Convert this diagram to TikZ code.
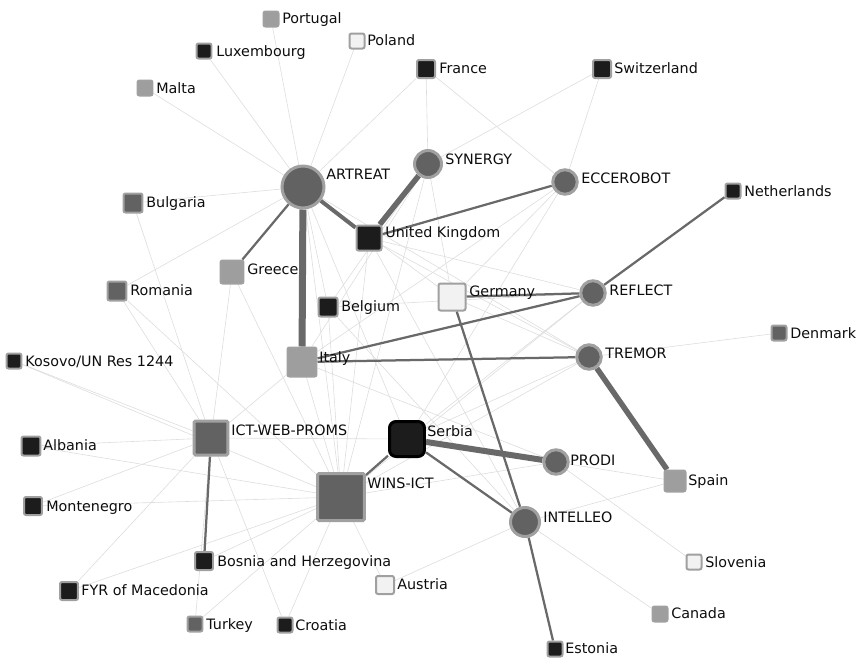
\documentclass[tikz,border=0pt]{standalone}
\usepackage{fontspec}
\setmainfont{DejaVu Sans}
\usepackage{tikz}
\pgfdeclarelayer{bg}
\pgfsetlayers{bg,main}
\definecolor{ringgray}{HTML}{A0A0A0}
\definecolor{darkfill}{HTML}{1C1C1C}
\definecolor{midfill}{HTML}{626262}
\definecolor{lightfill}{HTML}{9E9E9E}
\definecolor{whitefill}{HTML}{F2F2F2}
\definecolor{edgefaint}{HTML}{DDDDDD}
\definecolor{edgedark}{HTML}{696969}
\tikzset{
	cty/.style={rectangle, draw=ringgray, line width=0.4mm, rounded corners=0.4mm, minimum size=3mm, inner sep=0pt},
	proj/.style={circle, draw=ringgray, fill=midfill, line width=0.6mm, minimum size=4.9mm, inner sep=0pt},
	lbl/.style={anchor=west, inner sep=0pt, text height=6pt, text depth=0pt, text=black!95, font=\fontsize{8.15}{10}\selectfont},
	faint/.style={draw=edgefaint, line width=0.12mm},
	link/.style={draw=edgedark, line width=0.45mm},
	heavy/.style={draw=edgedark, line width=1.1mm}
}

\begin{document}
\begin{tikzpicture}[x=0.02cm, y=-0.02cm]
	\useasboundingbox (0,0) rectangle (856,660);
	% projects
	\node[proj, minimum size=8.4mm] (art) at (303,187) {};
	\node[proj, minimum size=5.4mm] (syn) at (428,164) {};
	\node[proj] (ecc) at (565,182) {};
	\node[proj] (ref) at (593,293) {};
	\node[proj] (tre) at (589,357) {};
	\node[proj] (pro) at (556,462) {};
	\node[proj, minimum size=5.8mm] (int) at (525,522) {};
	\node[cty, fill=midfill, line width=0.6mm, rounded corners=0.3mm, minimum size=6.8mm] (ict) at (211,438) {};
	\node[cty, fill=midfill, line width=0.6mm, rounded corners=0.3mm, minimum size=9.4mm] (wins) at (341,497) {};
	\node[cty, fill=darkfill, draw=black, line width=0.6mm, rounded corners=1.3mm, minimum size=7mm] (serb) at (407,439) {};
	% countries
	\node[cty, fill=lightfill] (port) at (271,19) {};
	\node[cty, fill=darkfill] (lux) at (204,51) {};
	\node[cty, fill=whitefill] (pol) at (357,41) {};
	\node[cty, fill=lightfill] (mal) at (145,88) {};
	\node[cty, fill=darkfill, minimum size=3.6mm] (fra) at (426,69) {};
	\node[cty, fill=darkfill, minimum size=3.6mm] (swi) at (602,69) {};
	\node[cty, fill=midfill, minimum size=3.8mm] (bul) at (133,203) {};
	\node[cty, fill=darkfill] (neth) at (733,191) {};
	\node[cty, fill=darkfill, minimum size=5mm] (uk) at (369,238) {};
	\node[cty, fill=lightfill, minimum size=4.6mm] (gre) at (232,272) {};
	\node[cty, fill=midfill, minimum size=3.8mm] (rom) at (117,291) {};
	\node[cty, fill=darkfill, minimum size=3.8mm] (bel) at (328,307) {};
	\node[cty, fill=whitefill, minimum size=5.4mm] (ger) at (452,297) {};
	\node[cty, fill=lightfill, minimum size=5.8mm] (ita) at (302,362) {};
	\node[cty, fill=darkfill] (kos) at (14,361) {};
	\node[cty, fill=midfill] (den) at (779,333) {};
	\node[cty, fill=darkfill, minimum size=3.8mm] (alb) at (31,446) {};
	\node[cty, fill=darkfill, minimum size=3.6mm] (mon) at (33,506) {};
	\node[cty, fill=lightfill, minimum size=4.2mm] (spa) at (675,481) {};
	\node[cty, fill=darkfill, minimum size=3.6mm] (bos) at (204,561) {};
	\node[cty, fill=darkfill, minimum size=3.6mm] (fyr) at (69,591) {};
	\node[cty, fill=whitefill, minimum size=3.6mm] (aus) at (385,585) {};
	\node[cty, fill=whitefill] (slo) at (694,562) {};
	\node[cty, fill=lightfill] (can) at (660,614) {};
	\node[cty, fill=midfill] (tur) at (195,624) {};
	\node[cty, fill=darkfill] (cro) at (285,625) {};
	\node[cty, fill=darkfill] (est) at (555,649) {};
	% labels
	\node[lbl] (artL) at (326,174) {ARTREAT};
	\node[lbl] (synL) at (445,159) {SYNERGY};
	\node[lbl] (eccL) at (581,178) {ECCEROBOT};
	\node[lbl] (refL) at (609,290) {REFLECT};
	\node[lbl] (treL) at (605,353) {TREMOR};
	\node[lbl] (proL) at (570,460) {PRODI};
	\node[lbl] (intL) at (543,517) {INTELLEO};
	\node[lbl] (ictL) at (231,430) {ICT-WEB-PROMS};
	\node[lbl] (winsL) at (367,483) {WINS-ICT};
	\node[lbl] (serbL) at (427,431) {Serbia};
	\node[lbl] (portL) at (282,18) {Portugal};
	\node[lbl] (luxL) at (216,51) {Luxembourg};
	\node[lbl] (polL) at (367,40) {Poland};
	\node[lbl] (malL) at (156,88) {Malta};
	\node[lbl] (fraL) at (439,68) {France};
	\node[lbl] (swiL) at (614,68) {Switzerland};
	\node[lbl] (bulL) at (146,202) {Bulgaria};
	\node[lbl] (nethL) at (744,191) {Netherlands};
	\node[lbl] (ukL) at (385,232) {United Kingdom};
	\node[lbl] (greL) at (247,269) {Greece};
	\node[lbl] (romL) at (130,290) {Romania};
	\node[lbl] (belL) at (341,306) {Belgium};
	\node[lbl] (gerL) at (469,291) {Germany};
	\node[lbl] (itaL) at (319,357) {Italy};
	\node[lbl] (kosL) at (25,361) {Kosovo/UN Res 1244};
	\node[lbl] (denL) at (790,333) {Denmark};
	\node[lbl] (albL) at (43,445) {Albania};
	\node[lbl] (monL) at (46,506) {Montenegro};
	\node[lbl] (spaL) at (688,480) {Spain};
	\node[lbl] (bosL) at (217,561) {Bosnia and Herzegovina};
	\node[lbl] (fyrL) at (81,590) {FYR of Macedonia};
	\node[lbl] (ausL) at (397,584) {Austria};
	\node[lbl] (sloL) at (705,562) {Slovenia};
	\node[lbl] (canL) at (671,613) {Canada};
	\node[lbl] (turL) at (206,624) {Turkey};
	\node[lbl] (croL) at (295,625) {Croatia};
	\node[lbl] (estL) at (565,648) {Estonia};
	\begin{pgfonlayer}{bg}
		% thin links
		\foreach \c in {port,lux,pol,mal,fra,bul,rom,bel,wins,serb,ger,tre}
			\draw[faint] (art) -- (\c);
		\foreach \c in {fra,swi,ger,bel,ita,wins}
			\draw[faint] (syn) -- (\c);
		\foreach \c in {fra,swi,ger,ita,serb}
			\draw[faint] (ecc) -- (\c);
		\foreach \c in {uk,bel,wins,serb}
			\draw[faint] (ref) -- (\c);
		\foreach \c in {uk,den,wins,ger,serb}
			\draw[faint] (tre) -- (\c);
		\foreach \c in {spa,slo,wins,ita}
			\draw[faint] (pro) -- (\c);
		\foreach \c in {aus,can,spa,uk,bel}
			\draw[faint] (int) -- (\c);
		\foreach \c in {bul,rom,kos,alb,mon,fyr,tur,gre,ita,serb,cro}
			\draw[faint] (ict) -- (\c);
		\foreach \c in {kos,alb,mon,fyr,tur,cro,bos,aus,gre,rom,bel,ita,uk}
			\draw[faint] (wins) -- (\c);
		% strong links
		\draw[link] (art) -- (gre);
		\draw[link] (ecc) -- (uk);
		\draw[link] (ref) -- (neth);
		\draw[link] (ref) -- (ger);
		\draw[link] (ref) -- (ita);
		\draw[link] (tre) -- (ita);
		\draw[link] (int) -- (serb);
		\draw[link] (int) -- (ger);
		\draw[link] (int) -- (est);
		\draw[link] (ict) -- (bos);
		\draw[link] (wins) -- (serb);
		\draw[heavy, line width=0.8mm] (art) -- (uk);
		\draw[heavy, line width=1.4mm] (art) -- (ita);
		\draw[heavy] (syn) -- (uk);
		\draw[heavy] (tre) -- (spa);
		\draw[heavy, line width=1.2mm] (serb) -- (pro);
	\end{pgfonlayer}
\end{tikzpicture}
\end{document}
